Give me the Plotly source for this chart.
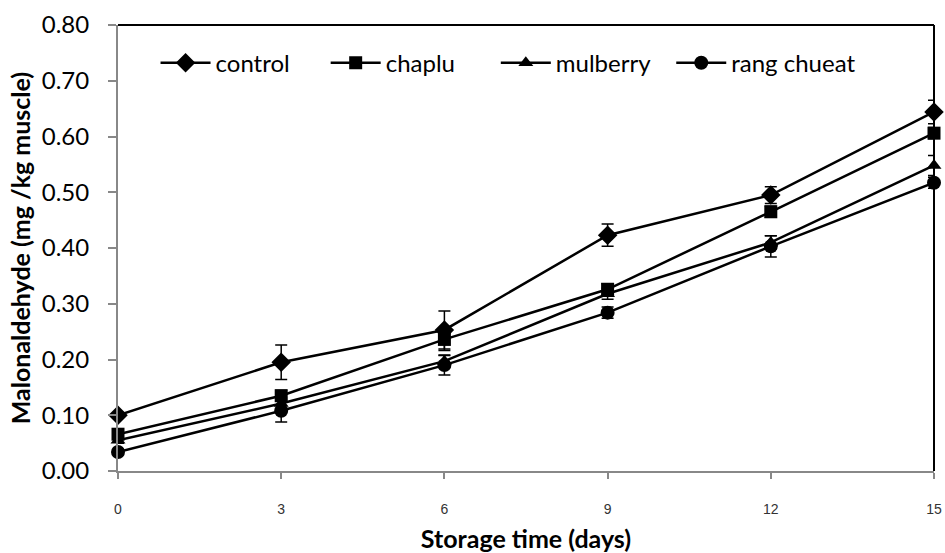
import plotly.graph_objects as go

days = [0, 3, 6, 9, 12, 15]
tick_vals_y = [0.0, 0.1, 0.2, 0.3, 0.4, 0.5, 0.6, 0.7, 0.8]
tick_text_y = ["0.00", "0.10", "0.20", "0.30", "0.40", "0.50", "0.60", "0.70", "0.80"]

control = [0.100, 0.195, 0.253, 0.423, 0.495, 0.644]
control_err = [0.005, 0.031, 0.034, 0.020, 0.015, 0.021]
chaplu = [0.066, 0.135, 0.236, 0.326, 0.465, 0.606]
chaplu_err = [0.005, 0.010, 0.020, 0.010, 0.010, 0.010]
mulberry = [0.055, 0.121, 0.197, 0.318, 0.410, 0.548]
mulberry_err = [0.005, 0.010, 0.010, 0.010, 0.012, 0.018]
rang = [0.034, 0.108, 0.190, 0.284, 0.403, 0.517]
rang_err = [0.005, 0.020, 0.018, 0.010, 0.019, 0.010]

series = [
    ("control", control, control_err, "diamond", 15, "legend", 0.046),
    ("chaplu", chaplu, chaplu_err, "square", 13, "legend2", 0.2545),
    ("mulberry", mulberry, mulberry_err, "triangle-up", 13, "legend3", 0.463),
    ("rang chueat", rang, rang_err, "circle", 14, "legend4", 0.678),
]

fig = go.Figure()
legend_defs = {}
for name, vals, errs, sym, sz, leg, lx in series:
    fig.add_trace(go.Scatter(
        x=days, y=vals, name=name, mode="lines+markers",
        line=dict(color="black", width=2.5),
        marker=dict(symbol=sym, size=sz, color="black"),
        error_y=dict(type="data", array=errs, visible=True,
                     color="black", thickness=1.5, width=6),
        cliponaxis=False, legend=leg,
    ))
    legend_defs[leg] = dict(
        orientation="h", x=lx, y=0.965, xanchor="left", yanchor="top",
        font=dict(family="Lato, Carlito, sans-serif", size=24, color="black"),
        bgcolor="rgba(0,0,0,0)", itemwidth=50,
    )

fig.update_layout(
    width=945, height=553,
    margin=dict(l=118, r=11, t=25, b=82),
    paper_bgcolor="white", plot_bgcolor="white",
    showlegend=True,
    xaxis=dict(
        range=[0, 15], tickvals=days, ticktext=[str(d) for d in days],
        showline=True, linecolor="#888888", linewidth=2,
        ticks="outside", ticklen=6, tickcolor="#888888", tickwidth=1.5,
        showgrid=False, zeroline=False, automargin=False,
        ticklabelstandoff=18,
        tickfont=dict(family="Liberation Sans, Arial, sans-serif", size=14, color="#333333"),
        title=dict(text="<b>Storage time (days)</b>", standoff=15,
                   font=dict(family="Lato, Carlito, sans-serif", size=25, color="black")),
    ),
    yaxis=dict(
        range=[0, 0.8], tickvals=tick_vals_y, ticktext=tick_text_y,
        showline=True, linecolor="#888888", linewidth=2,
        ticks="outside", ticklen=8, tickcolor="#888888", tickwidth=1.5,
        showgrid=False, zeroline=False, automargin=False,
        ticklabelstandoff=14,
        tickfont=dict(family="Lato, Carlito, sans-serif", size=24, color="black"),
        title=dict(text="<b>Malonaldehyde (mg /kg muscle)</b>", standoff=4,
                   font=dict(family="Lato, Carlito, sans-serif", size=25, color="black")),
    ),
    shapes=[
        dict(type="line", xref="paper", yref="paper", x0=0, x1=1, y0=1, y1=1,
             line=dict(color="black", width=2)),
        dict(type="line", xref="paper", yref="paper", x0=1, x1=1, y0=0, y1=1,
             line=dict(color="black", width=2)),
    ],
    **legend_defs,
)

fig.write_html(
    "out.html",
    config={"displayModeBar": False},
    post_script="document.body.style.margin='0';document.body.style.overflow='hidden';",
)
